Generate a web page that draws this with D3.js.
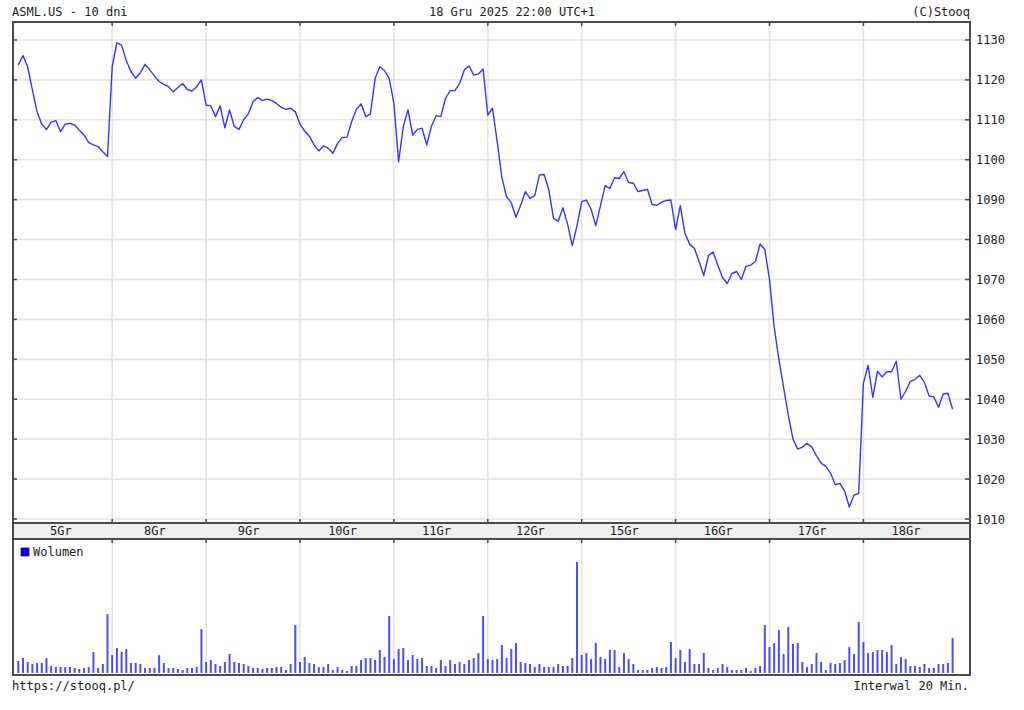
<!DOCTYPE html>
<html>
<head>
<meta charset="utf-8">
<script src="https://cdn.jsdelivr.net/npm/d3@7"></script>
<style>
  body { margin: 0; background: #fff; }
  text { font-family: "DejaVu Sans Mono", monospace; font-size: 12px; fill: #222; }
</style>
</head>
<body>
<div id="chart"></div>
<script>
// ASML.US, 20-minute bars, 10 sessions (20 bars each)
let dayLabels = ["5Gr", "8Gr", "9Gr", "10Gr", "11Gr", "12Gr", "15Gr", "16Gr", "17Gr", "18Gr"];
let priceTicks = [1010, 1020, 1030, 1040, 1050, 1060, 1070, 1080, 1090, 1100, 1110, 1120, 1130];

let prices = [
  1123.7, 1126.1, 1123.2, 1117.5, 1112.0, 1108.9, 1107.6, 1109.4, 1109.8, 1107.0, 1108.9, 1109.1, 1108.7, 1107.4, 1106.2, 1104.3, 1103.7, 1103.3, 1102.0, 1100.8,
  1123.3, 1129.3, 1128.7, 1124.8, 1122.1, 1120.4, 1121.8, 1123.9, 1122.5, 1121.0, 1119.6, 1118.9, 1118.3, 1117.0, 1118.1, 1119.1, 1117.6, 1117.2, 1118.3, 1120.0,
  1113.7, 1113.5, 1110.8, 1113.5, 1108.0, 1112.5, 1108.3, 1107.6, 1110.0, 1111.5, 1114.5, 1115.6, 1114.8, 1115.2, 1114.8, 1114.1, 1113.1, 1112.6, 1112.9, 1112.0,
  1108.9, 1107.2, 1105.9, 1103.7, 1102.2, 1103.5, 1102.9, 1101.6, 1104.1, 1105.6, 1105.6, 1109.5, 1112.6, 1114.0, 1110.8, 1111.5, 1120.4, 1123.3, 1122.3, 1120.4,
  1114.1, 1099.5, 1108.3, 1112.5, 1106.2, 1107.6, 1107.9, 1103.7, 1108.4, 1111.0, 1110.8, 1115.4, 1117.3, 1117.3, 1119.1, 1122.5, 1123.5, 1121.2, 1121.5, 1122.7,
  1111.2, 1112.9, 1104.5, 1095.5, 1090.7, 1089.2, 1085.6, 1088.6, 1092.0, 1090.3, 1091.0, 1096.2, 1096.3, 1092.4, 1085.3, 1084.6, 1088.0, 1083.8, 1078.5, 1083.5,
  1089.5, 1089.9, 1087.6, 1083.5, 1088.5, 1093.5, 1092.8, 1095.5, 1095.3, 1097.0, 1094.3, 1094.1, 1092.0, 1092.3, 1092.6, 1088.8, 1088.6, 1089.3, 1089.8, 1089.9,
  1082.5, 1088.5, 1081.5, 1078.8, 1077.8, 1074.5, 1071.0, 1076.0, 1076.9, 1073.5, 1070.5, 1069.0, 1071.5, 1072.0, 1070.0, 1073.3, 1073.6, 1074.5, 1078.9, 1077.5,
  1070.0, 1058.0, 1050.0, 1043.0, 1036.0, 1030.0, 1027.5, 1028.0, 1029.0, 1028.0, 1025.8, 1024.0, 1023.2, 1021.5, 1018.6, 1018.9, 1017.0, 1013.0, 1016.0, 1016.4,
  1044.0, 1048.5, 1040.5, 1047.0, 1045.6, 1046.9, 1046.9, 1049.5, 1040.0, 1042.0, 1044.5, 1045.0, 1046.0, 1044.2, 1040.8, 1040.6, 1038.0, 1041.3, 1041.5, 1037.5
];

// volume, arbitrary units
let volumes = [
  12, 15, 11, 9, 10, 10, 15, 7, 6, 6, 6, 6, 5, 4, 5, 6, 21, 5, 9, 59,
  18, 25, 21, 24, 10, 10, 9, 5, 5, 5, 18, 10, 5, 5, 4, 3, 5, 5, 6, 44,
  11, 13, 9, 7, 11, 19, 11, 10, 9, 7, 5, 5, 4, 5, 5, 6, 6, 3, 9, 48,
  11, 16, 10, 9, 6, 6, 9, 3, 6, 3, 2, 7, 7, 13, 15, 15, 13, 23, 16, 57,
  14, 24, 25, 13, 18, 14, 15, 7, 7, 5, 13, 7, 13, 9, 11, 9, 13, 15, 20, 57,
  14, 13, 14, 28, 15, 24, 30, 11, 10, 9, 6, 9, 6, 6, 6, 9, 7, 7, 15, 111,
  18, 20, 14, 30, 16, 14, 23, 23, 6, 20, 14, 9, 3, 3, 3, 5, 6, 5, 6, 31,
  15, 23, 11, 24, 9, 9, 20, 5, 3, 5, 9, 6, 3, 3, 3, 5, 2, 5, 7, 48,
  26, 30, 43, 19, 46, 29, 30, 11, 6, 9, 20, 11, 3, 10, 9, 10, 13, 26, 19, 51,
  31, 20, 21, 23, 23, 21, 28, 9, 16, 14, 7, 7, 6, 9, 5, 5, 9, 9, 10, 35
];

let barsPerDay = 20;
let frame = {left: 13, right: 970, top: 22, mainBottom: 523, bandBottom: 539, volBottom: 675};
let gridColor = "#e4e4e4", axisColor = "#4a4a4a";

let svg = d3.select("#chart").append("svg")
    .attr("width", 1024)
    .attr("height", 710)
    .style("display", "block")
    .style("background", "#fff");

let xScale = d3.scaleLinear().domain([0, 200]).range([18.3, 957.3]);
let yScale = d3.scaleLinear().domain([1009, 1134.5]).range([frame.mainBottom, frame.top]);
let vScale = d3.scaleLinear().domain([0, 134]).range([673, frame.bandBottom]);

let dayStarts = d3.range(1, dayLabels.length).map(k => k * barsPerDay);

// grid - main panel
svg.append("g").attr("class", "grid-y")
    .selectAll("line").data(priceTicks).enter().append("line")
    .attr("x1", frame.left).attr("x2", frame.right)
    .attr("y1", d => yScale(d)).attr("y2", d => yScale(d))
    .style("stroke", gridColor).style("stroke-width", 1.6);

svg.append("g").attr("class", "grid-x")
    .selectAll("line").data(dayStarts).enter().append("line")
    .attr("x1", d => xScale(d)).attr("x2", d => xScale(d))
    .attr("y1", frame.top).attr("y2", frame.mainBottom)
    .style("stroke", gridColor).style("stroke-width", 1.6);

svg.append("g").attr("class", "grid-x-vol")
    .selectAll("line").data(dayStarts).enter().append("line")
    .attr("x1", d => xScale(d)).attr("x2", d => xScale(d))
    .attr("y1", frame.bandBottom).attr("y2", frame.volBottom)
    .style("stroke", gridColor).style("stroke-width", 1.6);

// day label band
svg.append("rect")
    .attr("x", frame.left).attr("y", frame.mainBottom)
    .attr("width", frame.right - frame.left).attr("height", frame.bandBottom - frame.mainBottom)
    .style("fill", "#efefef");

svg.append("g").attr("class", "x-labels")
    .selectAll("text").data(dayLabels).enter().append("text")
    .attr("x", (d, i) => xScale(i * barsPerDay + 9.5) - 2)
    .attr("y", 535)
    .attr("text-anchor", "middle")
    .text(d => d);

// volume bars
svg.append("g").attr("class", "volume")
    .selectAll("rect").data(volumes).enter().append("rect")
    .attr("x", (d, i) => xScale(i) - 1)
    .attr("y", d => vScale(d))
    .attr("width", 2)
    .attr("height", d => vScale(0) - vScale(d))
    .style("fill", "#4d4dff");

// price line
let line = d3.line()
    .x((d, i) => xScale(i))
    .y(d => yScale(d));

svg.append("path")
    .datum(prices)
    .attr("d", line)
    .style("fill", "none")
    .style("stroke", "#3535ff")
    .style("stroke-width", 1.4)
    .style("stroke-linejoin", "round");

// frame
let frameG = svg.append("g").attr("class", "frame")
    .style("stroke", axisColor).style("stroke-width", 2).style("fill", "none");
frameG.append("rect")
    .attr("x", frame.left).attr("y", frame.top)
    .attr("width", frame.right - frame.left).attr("height", frame.volBottom - frame.top);
[frame.mainBottom, frame.bandBottom].forEach(y => {
    frameG.append("line").attr("x1", frame.left).attr("x2", frame.right).attr("y1", y).attr("y2", y);
});

// ticks
let tickG = svg.append("g").attr("class", "ticks").style("stroke", axisColor).style("stroke-width", 1.5);
dayStarts.forEach(d => {
    let x = xScale(d);
    tickG.append("line").attr("x1", x).attr("x2", x).attr("y1", frame.top).attr("y2", frame.top + 4);
    tickG.append("line").attr("x1", x).attr("x2", x).attr("y1", frame.mainBottom - 4).attr("y2", frame.mainBottom);
    tickG.append("line").attr("x1", x).attr("x2", x).attr("y1", frame.bandBottom).attr("y2", frame.bandBottom + 4);
});
priceTicks.forEach(v => {
    let y = yScale(v);
    tickG.append("line").attr("x1", frame.left).attr("x2", frame.left + 4).attr("y1", y).attr("y2", y);
    tickG.append("line").attr("x1", frame.right - 5).attr("x2", frame.right).attr("y1", y).attr("y2", y);
});

// right axis labels
svg.append("g").attr("class", "y-labels")
    .selectAll("text").data(priceTicks).enter().append("text")
    .attr("x", 976)
    .attr("y", d => yScale(d) + 4.5)
    .text(d => d);

// legend
svg.append("rect")
    .attr("x", 21).attr("y", 548).attr("width", 8).attr("height", 8)
    .style("fill", "#0000ee").style("stroke", "#222").style("stroke-width", 0.8);
svg.append("text").attr("x", 33).attr("y", 556).text("Wolumen");

// header / footer
svg.append("text").attr("x", 12).attr("y", 16).text("ASML.US - 10 dni");
svg.append("text").attr("x", 512).attr("y", 16).attr("text-anchor", "middle").text("18 Gru 2025 22:00 UTC+1");
svg.append("text").attr("x", 970).attr("y", 16).attr("text-anchor", "end").text("(C)Stooq");
svg.append("text").attr("x", 12).attr("y", 690).text("https://stooq.pl/");
svg.append("text").attr("x", 969).attr("y", 690).attr("text-anchor", "end").text("Interwal 20 Min.");
</script>
</body>
</html>
